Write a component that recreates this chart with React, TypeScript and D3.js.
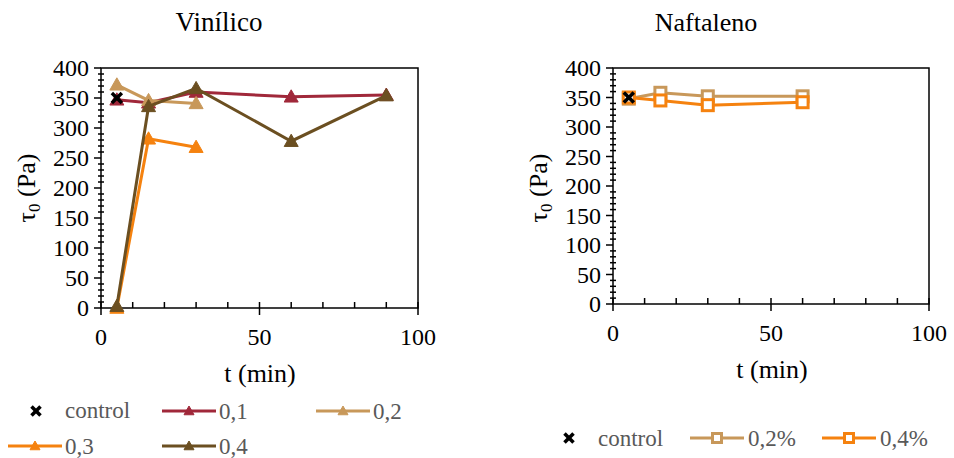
import React from "react";
import * as d3 from "d3";

const times = [5, 15, 30, 60, 90];
const controlPoint = { t: 5, v: 350 };

const vinSeries = [
  { name: "0,1", color: "#A0283A", values: [347, 342, 360, 352, 355] },
  { name: "0,2", color: "#C8985A", values: [372, 346, 341, null, null] },
  { name: "0,3", color: "#F5820F", values: [0, 282, 268, null, null] },
  { name: "0,4", color: "#6B4F21", values: [3, 336, 366, 278, 354] },
];

const naftSeries = [
  { name: "0,2%", color: "#C8985A", values: [348, 358, 352, 352] },
  { name: "0,4%", color: "#F5820F", values: [350, 345, 337, 342] },
];

const yTicks = [0, 50, 100, 150, 200, 250, 300, 350, 400];
const xTicks = [0, 50, 100];

const FONT = '"Liberation Serif", "Times New Roman", Tinos, "DejaVu Serif", serif';

type Panel = {
  left: number;
  right: number;
  top: number;
  bottom: number;
};

function Axes({ p, x, y }: { p: Panel; x: any; y: any }) {
  const minorY = d3.range(0, 401, 10);
  const minorX = d3.range(0, 101, 10);
  return (
    <g>
      <rect x={p.left} y={p.top} width={p.right - p.left} height={p.bottom - p.top} fill="none" stroke="#000" strokeWidth={1.5} />
      {minorY.map((v) => (
        <line key={"my" + v} x1={p.left - (v % 50 === 0 ? 7 : 3)} x2={p.left + (v % 50 === 0 ? 0 : 3)} y1={y(v)} y2={y(v)} stroke="#000" strokeWidth={1.5} />
      ))}
      {minorX.map((v) => (
        <line key={"mx" + v} x1={x(v)} x2={x(v)} y1={p.bottom + (v % 50 === 0 ? 7 : 0)} y2={p.bottom - 6} stroke="#000" strokeWidth={1.5} />
      ))}
      {yTicks.map((v) => (
        <text key={"ty" + v} x={p.left - 12} y={y(v)} dy="0.35em" textAnchor="end" style={{ fontFamily: FONT, fontSize: 24 }} fill="#000">{v}</text>
      ))}
      {xTicks.map((v) => (
        <text key={"tx" + v} x={x(v)} y={p.bottom + 37} textAnchor="middle" style={{ fontFamily: FONT, fontSize: 24 }} fill="#000">{v}</text>
      ))}
    </g>
  );
}

function Triangle({ cx, cy, color, s = 7 }: { cx: number; cy: number; color: string; s?: number }) {
  return <path d={`M${cx},${cy - s} L${cx + s},${cy + s * 0.75} L${cx - s},${cy + s * 0.75} Z`} fill={color} stroke={color} strokeWidth={1} />;
}

function XMark({ cx, cy, s = 5 }: { cx: number; cy: number; s?: number }) {
  return (
    <g stroke="#000" strokeWidth={3.5} strokeLinecap="butt">
      <line x1={cx - s} y1={cy - s} x2={cx + s} y2={cy + s} />
      <line x1={cx - s} y1={cy + s} x2={cx + s} y2={cy - s} />
    </g>
  );
}

function YLabel({ x, y }: { x: number; y: number }) {
  return (
    <text transform={`translate(${x},${y}) rotate(-90)`} textAnchor="middle" style={{ fontFamily: FONT, fontSize: 26 }} fill="#000">
      τ<tspan style={{ fontSize: 17 }} dy={5}>0</tspan>
      <tspan dy={-5}> (Pa)</tspan>
    </text>
  );
}

export default function App() {
  const pL: Panel = { left: 101, right: 418, top: 68, bottom: 308 };
  const pR: Panel = { left: 613, right: 929, top: 68, bottom: 304 };
  const xL = d3.scaleLinear().domain([0, 100]).range([pL.left, pL.right]);
  const yL = d3.scaleLinear().domain([0, 400]).range([pL.bottom, pL.top]);
  const xR = d3.scaleLinear().domain([0, 100]).range([pR.left, pR.right]);
  const yR = d3.scaleLinear().domain([0, 400]).range([pR.bottom, pR.top]);

  const lineL = d3
    .line<[number, number | null]>()
    .defined((d) => d[1] !== null)
    .x((d) => xL(d[0]))
    .y((d) => yL(d[1] as number));
  const lineR = d3
    .line<[number, number]>()
    .x((d) => xR(d[0]))
    .y((d) => yR(d[1]));

  const titleStyle = { fontFamily: FONT, fontSize: 26 };
  const legStyle = { fontFamily: FONT, fontSize: 23 };

  return (
    <svg width={954} height={458} style={{ position: "absolute", left: 0, top: 0, background: "#fff" }}>
      <rect width={954} height={458} fill="#fff" />
      {/* Left panel */}
      <text x={219} y={31} textAnchor="middle" style={{ fontFamily: FONT, fontSize: 27 }} fill="#000">Vinílico</text>
      <Axes p={pL} x={xL} y={yL} />
      <YLabel x={35} y={188} />
      <text x={260} y={382} textAnchor="middle" style={titleStyle} fill="#000">t (min)</text>
      {vinSeries.map((s) => {
        const pts = times.map((t, i) => [t, s.values[i]] as [number, number | null]);
        return (
          <g key={s.name}>
            <path d={lineL(pts) || ""} fill="none" stroke={s.color} strokeWidth={3} />
            {pts.filter((d) => d[1] !== null).map((d, i) => (
              <Triangle key={i} cx={xL(d[0])} cy={yL(d[1] as number)} color={s.color} />
            ))}
          </g>
        );
      })}
      <XMark cx={xL(controlPoint.t)} cy={yL(controlPoint.v)} />

      {/* Right panel */}
      <text x={706} y={31} textAnchor="middle" style={titleStyle} fill="#000">Naftaleno</text>
      <Axes p={pR} x={xR} y={yR} />
      <YLabel x={547} y={188} />
      <text x={772} y={378} textAnchor="middle" style={titleStyle} fill="#000">t (min)</text>
      {naftSeries.map((s) => {
        const pts = times.slice(0, s.values.length).map((t, i) => [t, s.values[i]] as [number, number]);
        return (
          <g key={s.name}>
            <path d={lineR(pts) || ""} fill="none" stroke={s.color} strokeWidth={3} />
            {pts.map((d, i) => (
              <rect key={i} x={xR(d[0]) - 5.5} y={yR(d[1]) - 5.5} width={11} height={11} fill="#fff" stroke={s.color} strokeWidth={3} />
            ))}
          </g>
        );
      })}
      <XMark cx={xR(controlPoint.t)} cy={yR(controlPoint.v)} />

      {/* Left legend */}
      <g fill="#595959">
        <XMark cx={36} cy={411} s={4.5} />
        <text x={65} y={418} style={legStyle}>control</text>
        {[
          { s: vinSeries[0], x: 162, y: 411 },
          { s: vinSeries[1], x: 316, y: 411 },
          { s: vinSeries[2], x: 8, y: 446 },
          { s: vinSeries[3], x: 162, y: 446 },
        ].map(({ s, x, y }) => (
          <g key={s.name}>
            <line x1={x} x2={x + 54} y1={y} y2={y} stroke={s.color} strokeWidth={3} />
            <Triangle cx={x + 27} cy={y} color={s.color} s={5} />
            <text x={x + 57} y={y + 8} style={legStyle}>{s.name}</text>
          </g>
        ))}
      </g>

      {/* Right legend */}
      <g fill="#595959">
        <XMark cx={569} cy={438} s={4.5} />
        <text x={598} y={446} style={legStyle}>control</text>
        {[
          { s: naftSeries[0], x: 690, y: 438 },
          { s: naftSeries[1], x: 822, y: 438 },
        ].map(({ s, x, y }) => (
          <g key={s.name}>
            <line x1={x} x2={x + 54} y1={y} y2={y} stroke={s.color} strokeWidth={3} />
            <rect x={x + 27 - 4.5} y={y - 4.5} width={9} height={9} fill="#fff" stroke={s.color} strokeWidth={3} />
            <text x={x + 58} y={y + 8} style={legStyle}>{s.name}</text>
          </g>
        ))}
      </g>
    </svg>
  );
}
